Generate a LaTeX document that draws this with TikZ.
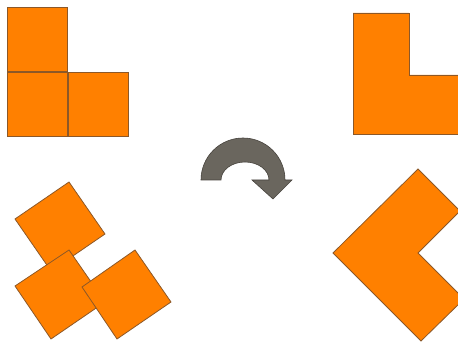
\documentclass[tikz,border=0pt]{standalone}
\definecolor{tileorange}{RGB}{255,128,0}
\definecolor{tileedge}{RGB}{140,88,40}
\definecolor{arrowgray}{RGB}{106,102,94}
\definecolor{arrowedge}{RGB}{70,66,60}
\tikzset{
  tile/.style={fill=tileorange, draw=tileedge, line width=0.8pt, line join=miter},
  turnarrow/.style={fill=arrowgray, draw=arrowedge, line width=0.6pt, line join=miter}
}
\begin{document}
\begin{tikzpicture}[x=1pt,y=1pt]
\useasboundingbox (0,0) rectangle (458,342);
\clip (0,0) rectangle (458,342);
% top-left: three separate squares
\draw[tile] (7,271) rectangle (67,335);
\draw[tile] (7,206) rectangle (67,270);
\draw[tile] (68,206) rectangle (128,270);
% top-right: merged L
\draw[tile] (353,329) -- (409,329) -- (409,267) -- (470,267) -- (470,208) -- (353,208) -- cycle;
% bottom-left: rotated squares
\draw[tile] (15,123) -- (69,160) -- (105,108) -- (51,71) -- cycle;
\draw[tile] (15,56) -- (69,92) -- (105,40) -- (51,3) -- cycle;
\draw[tile] (82,55) -- (135,92) -- (171,40) -- (117,3) -- cycle;
% bottom-right: rotated L
\draw[tile] (333,89) -- (418,173) -- (460,131) -- (418,89) -- (464,43) -- (421,1) -- cycle;
% curved arrow
\draw[turnarrow] (201,162) arc[start angle=180, end angle=0, radius=42]
  -- (292,162) -- (273,143) -- (252,162) -- (269,162)
  arc[start angle=0, end angle=180, x radius=24, y radius=18] -- cycle;
\end{tikzpicture}
\end{document}
